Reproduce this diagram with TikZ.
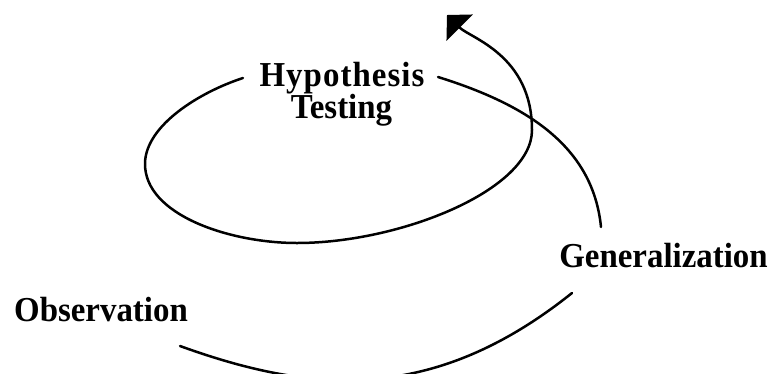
\documentclass[tikz,border=0pt]{standalone}
\usepackage{fontspec}
\setmainfont{Liberation Serif}[FakeStretch=0.94]
\usetikzlibrary{arrows.meta}
\begin{document}
\begin{tikzpicture}[x=1pt,y=-1pt,
  lbl/.style={font=\fontsize{35}{35}\selectfont\bfseries, inner sep=0pt, anchor=base},
  spiral/.style={line width=2.5pt, line cap=round, line join=round}]
\useasboundingbox (0,0) rectangle (777,373);
\clip (0,0) rectangle (777,373);
\node[lbl] (hyp) at (342,86) {\addfontfeature{LetterSpace=3}Hypothesis};
\node[lbl] (test) at (341.5,118) {Testing};
\node[lbl] (gen) at (663.5,267) {Generalization};
\node[lbl] (obs) at (101,321) {Observation};
\coordinate (obsEnd) at (180,346);
\coordinate (genIn) at (572,293);
\coordinate (genOut) at (601,227);
\coordinate (hypR) at (438,77);
\coordinate (hypL) at (243,78);
\coordinate (tip) at (447,15);
\draw[spiral] (obsEnd) .. controls (310,393) and (432,405) .. (genIn);
\draw[spiral] (genOut) .. controls (593,147) and (528,105) .. (hypR);
\draw[spiral,-{Triangle[length=18pt,width=37pt]}] (hypL)
  .. controls (200,92) and (146,125) .. (145,163)
  .. controls (144,215) and (230,243) .. (297,243)
  .. controls (400,243) and (532,190) .. (532,130)
  .. controls (532,55) and (470,38) .. (tip);
\end{tikzpicture}
\end{document}
